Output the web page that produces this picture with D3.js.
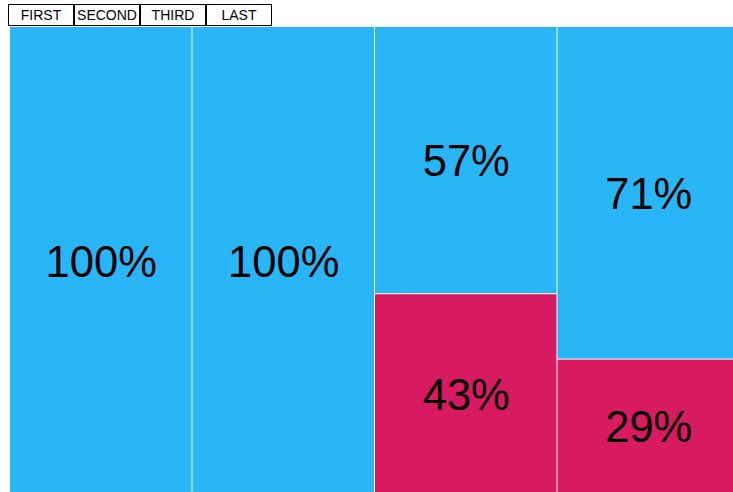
<!DOCTYPE html>
<html>
<head>
<meta charset="utf-8">
<script src="https://cdn.jsdelivr.net/npm/d3@7"></script>
<style>
  body { margin: 0; background: #fff; font-family: "Liberation Sans", Arial, Helvetica, sans-serif; overflow: hidden; }
  #buttons { position: absolute; left: 8px; top: 4px; display: flex; }
  #buttons button {
    width: 66px; height: 22px; margin: 0; padding: 0;
    border: 1px solid #000; background: #fff; color: #000;
    font-family: "Liberation Sans", Arial, sans-serif; font-size: 14px;
    line-height: 20px; border-radius: 0;
  }
  #chart { position: absolute; left: 0; top: 0; }
</style>
</head>
<body>
<div id="chart"></div>
<div id="buttons"></div>
<script>
const categories = ['FIRST', 'SECOND', 'THIRD', 'LAST'];
const bluePct = [100, 100, 57, 71];
const pinkPct = [0, 0, 43, 29];

const w = 733;
const h = 492;
const padLeft = 10;
const padTop = 27;
const colW = 182.5;

d3.select('#buttons').selectAll('button')
  .data(categories)
  .enter()
  .append('button')
  .text(d => d);

const svg = d3.select('#chart').append('svg')
  .attr('width', w)
  .attr('height', h);

const xScale = d3.scaleBand()
  .domain(categories)
  .range([padLeft, padLeft + colW * categories.length])
  .padding(0);

// chart runs a little past the bottom of the window
const yScale = d3.scaleLinear()
  .domain([0, 100])
  .range([padTop, 494]);

const rows = categories.map((c, i) => ({ cat: c, blue: bluePct[i], pink: pinkPct[i] }));

const segs = [];
rows.forEach(r => {
  segs.push({ cat: r.cat, y0: 0, y1: r.blue, v: r.blue, color: '#29b6f6' });
  if (r.pink > 0) segs.push({ cat: r.cat, y0: r.blue, y1: r.blue + r.pink, v: r.pink, color: '#d81b60' });
});

const g = svg.selectAll('g.seg')
  .data(segs)
  .enter()
  .append('g')
  .attr('class', 'seg');

g.append('rect')
  .attr('x', d => xScale(d.cat))
  .attr('y', d => yScale(d.y0) + (d.y0 > 0 ? 1 : 0))
  .attr('width', xScale.bandwidth() - 1)
  .attr('height', d => yScale(d.y1) - yScale(d.y0) - (d.y0 > 0 ? 1 : 0))
  .attr('fill', d => d.color);

g.append('text')
  .attr('x', d => xScale(d.cat) + xScale.bandwidth() / 2)
  .attr('y', d => (yScale(d.y0) + yScale(d.y1)) / 2 + 1)
  .attr('text-anchor', 'middle')
  .attr('dominant-baseline', 'central')
  .style('font-family', '"Liberation Sans", Arial, sans-serif')
  .style('font-size', '43.5px')
  .attr('fill', '#000')
  .text(d => d.v + '%');
</script>
</body>
</html>
